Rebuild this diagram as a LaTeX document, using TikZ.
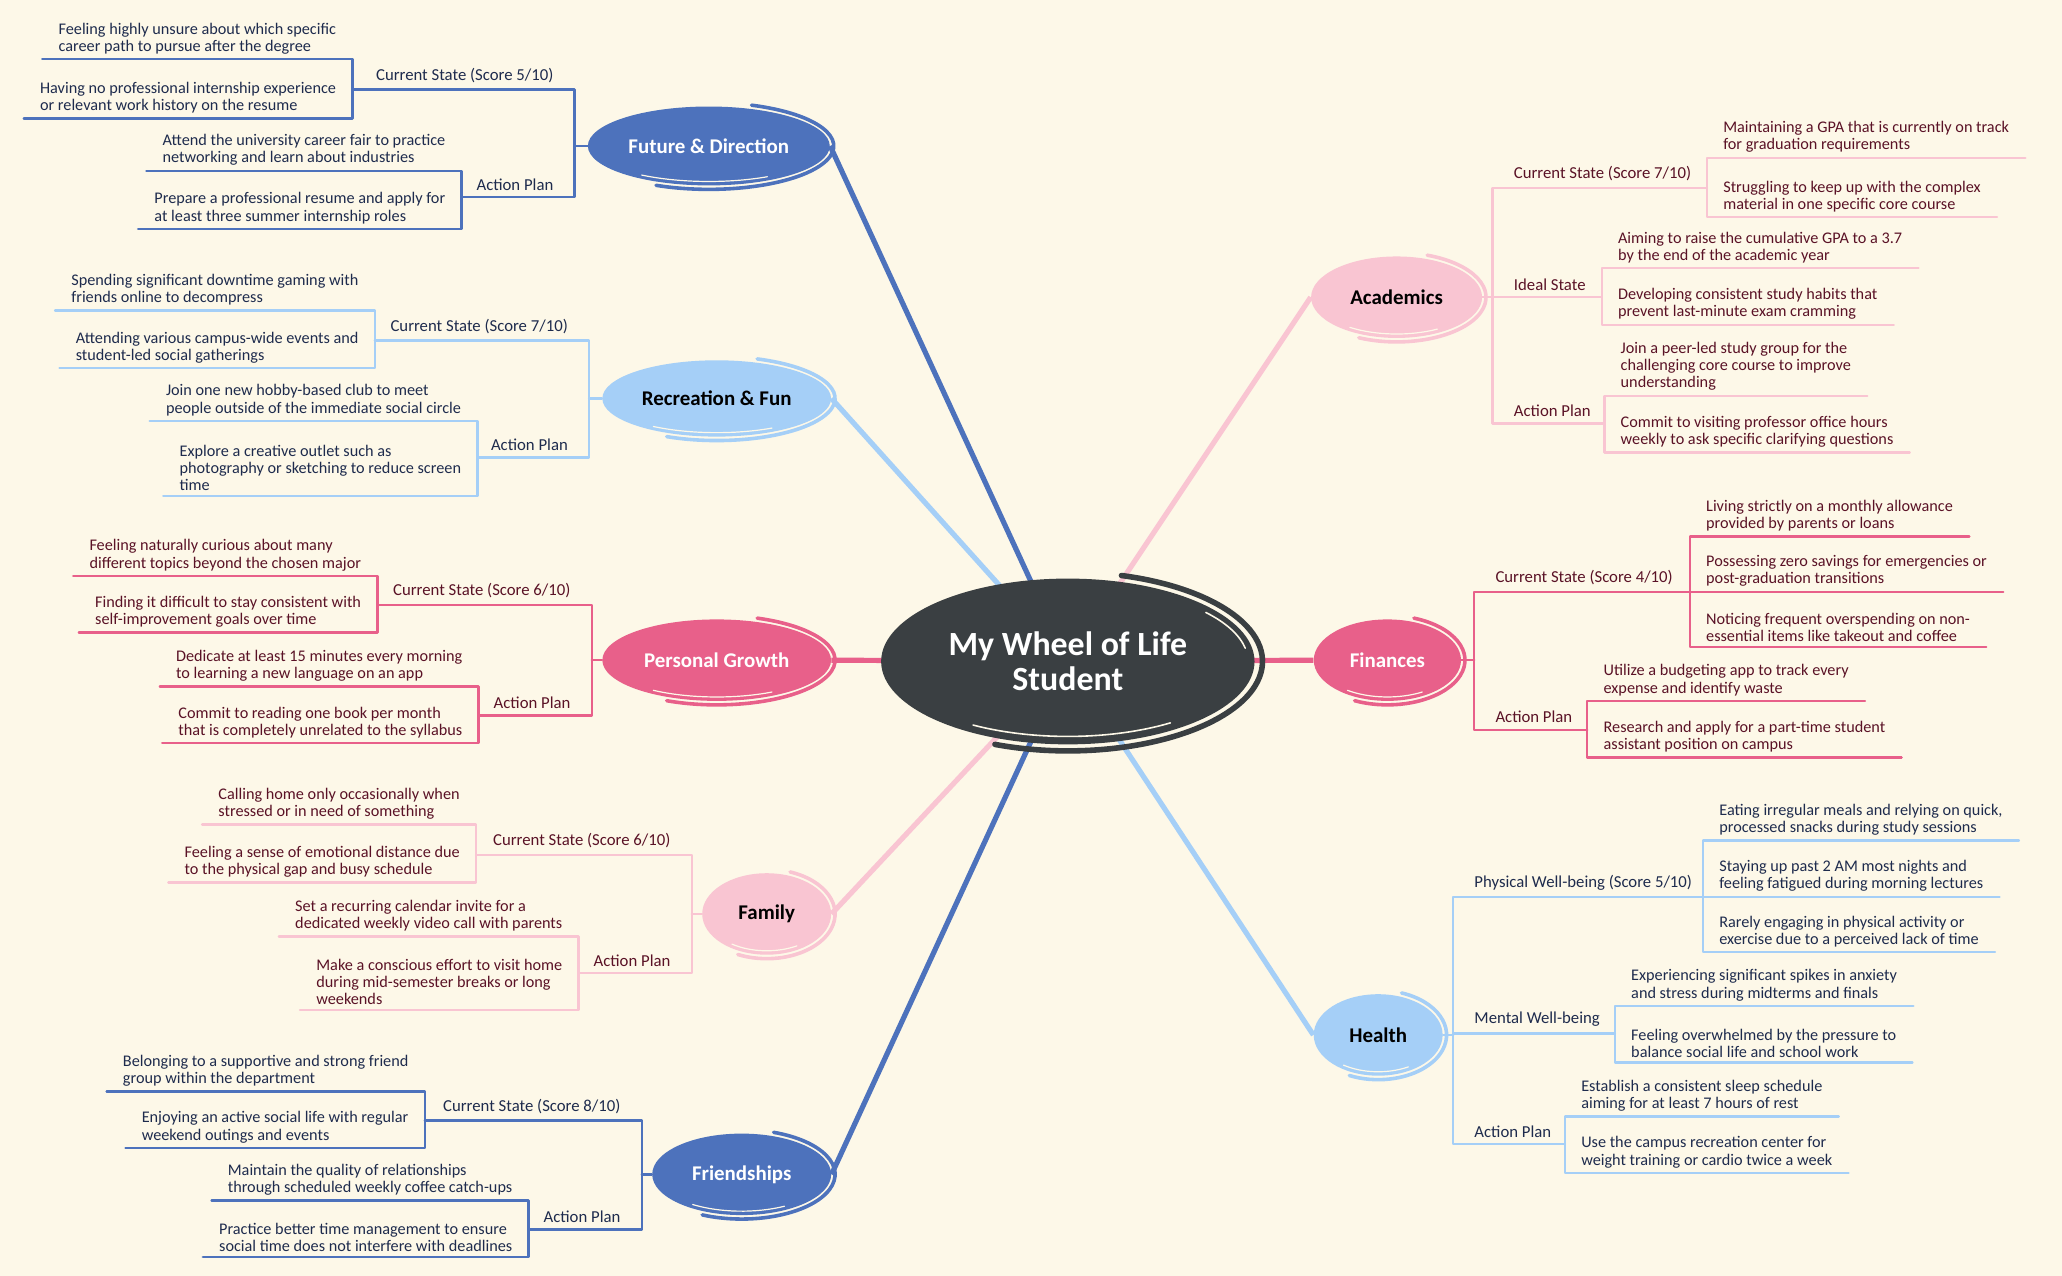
\documentclass[tikz,border=0pt]{standalone}
\usepackage{fontspec}
\setmainfont{Carlito}
\usetikzlibrary{shapes.geometric,backgrounds}
\definecolor{dblue}{HTML}{4D72BC}
\definecolor{lblue}{HTML}{A5CFF7}
\definecolor{dpink}{HTML}{E8608A}
\definecolor{lpink}{HTML}{F9C5D2}
\definecolor{hubgray}{HTML}{3A3F42}
\definecolor{paper}{HTML}{FDF8E8}
\definecolor{navytext}{HTML}{1E2B4D}
\definecolor{maroontext}{HTML}{5A1226}

\begin{document}
\begin{tikzpicture}[x=0.66pt,y=0.66pt,yscale=-1,xscale=1,
  leafnode/.style={align=left, inner xsep=8pt, inner ysep=2.4pt, font=\fontsize{8.15}{8.6}\selectfont},
  navyleaf/.style={leafnode, text=navytext},
  maroonleaf/.style={leafnode, text=maroontext},
  branchlabel/.style={inner xsep=10.5pt, inner ysep=3.2pt, font=\fontsize{8.4}{9}\selectfont},
  navylabel/.style={branchlabel, text=navytext},
  maroonlabel/.style={branchlabel, text=maroontext},
  topicnode/.style={ellipse, inner sep=0pt, font=\bfseries\fontsize{10.5}{12}\selectfont},
  dblueline/.style={draw=dblue, line width=1.2pt, line cap=round, line join=round},
  lblueline/.style={draw=lblue, line width=1.2pt, line cap=round, line join=round},
  dpinkline/.style={draw=dpink, line width=1.2pt, line cap=round, line join=round},
  lpinkline/.style={draw=lpink, line width=1.2pt, line cap=round, line join=round},
  spoke/.style={line width=2.6pt},
  sketch/.style={line width=1.8pt, line cap=round},
  gapline/.style={draw=paper, line width=0.6pt, line cap=round}
]
\useasboundingbox (0,0) rectangle (1568,970);

%Shape: Ellipse (hub)
\node[ellipse, inner sep=0pt, fill=hubgray, text=white, minimum width=187.4pt, minimum height=83.2pt,
  align=center, font=\bfseries\fontsize{17}{17.5}\selectfont] (hub) at (812,503) {My Wheel of Life\\Student};
\draw[hubgray, line width=2.8pt, line cap=round] (hub.center) ++(-74:148 and 68) arc[start angle=-74, end angle=112, x radius=148, y radius=68];
\draw[draw=paper, line width=0.8pt, line cap=round] (hub.center) ++(55:136 and 57) arc[start angle=55, end angle=122, x radius=136, y radius=57];
\draw[draw=paper, line width=0.8pt, line cap=round] (hub.center) ++(-40:137 and 58) arc[start angle=-40, end angle=-10, x radius=137, y radius=58];

%Shape: Ellipse (topics)
\node[topicnode, fill=dblue, text=white, minimum width=121.4pt, minimum height=39.6pt] (fut) at (539,111) {Future \& Direction};
\draw[dblue, sketch] (fut.center) ++(-70:95 and 33) arc[start angle=-70, end angle=115, x radius=95, y radius=33];
\draw[gapline] (fut.center) ++(60:89 and 27) arc[start angle=60, end angle=125, x radius=89, y radius=27];

\node[topicnode, fill=lblue, text=black, minimum width=114.8pt, minimum height=38.3pt] (rec) at (545,303) {Recreation \& Fun};
\draw[lblue, sketch] (rec.center) ++(-70:90 and 32) arc[start angle=-70, end angle=115, x radius=90, y radius=32];
\draw[gapline] (rec.center) ++(60:84 and 26) arc[start angle=60, end angle=125, x radius=84, y radius=26];

\node[topicnode, fill=dpink, text=white, minimum width=114.8pt, minimum height=40.9pt] (pgr) at (545,502) {Personal Growth};
\draw[dpink, sketch] (pgr.center) ++(-70:90 and 34) arc[start angle=-70, end angle=115, x radius=90, y radius=34];
\draw[gapline] (pgr.center) ++(60:84 and 28) arc[start angle=60, end angle=125, x radius=84, y radius=28];

\node[topicnode, fill=lpink, text=black, minimum width=64.7pt, minimum height=40.9pt] (fam) at (583,695) {Family};
\draw[lpink, sketch] (fam.center) ++(-70:52 and 34) arc[start angle=-70, end angle=115, x radius=52, y radius=34];
\draw[gapline] (fam.center) ++(60:46 and 28) arc[start angle=60, end angle=125, x radius=46, y radius=28];

\node[topicnode, fill=dblue, text=white, minimum width=89.8pt, minimum height=40.9pt] (fri) at (564,893) {Friendships};
\draw[dblue, sketch] (fri.center) ++(-70:71 and 34) arc[start angle=-70, end angle=115, x radius=71, y radius=34];
\draw[gapline] (fri.center) ++(60:65 and 28) arc[start angle=60, end angle=125, x radius=65, y radius=28];

\node[topicnode, fill=lpink, text=black, minimum width=85.8pt, minimum height=40.9pt] (aca) at (1062,226) {Academics};
\draw[lpink, sketch] (aca.center) ++(-70:68 and 34) arc[start angle=-70, end angle=115, x radius=68, y radius=34];
\draw[gapline] (aca.center) ++(60:62 and 28) arc[start angle=60, end angle=125, x radius=62, y radius=28];

\node[topicnode, fill=dpink, text=white, minimum width=73.9pt, minimum height=40.9pt] (fin) at (1055,502) {Finances};
\draw[dpink, sketch] (fin.center) ++(-70:59 and 34) arc[start angle=-70, end angle=115, x radius=59, y radius=34];
\draw[gapline] (fin.center) ++(60:53 and 28) arc[start angle=60, end angle=125, x radius=53, y radius=28];

\node[topicnode, fill=lblue, text=black, minimum width=64.7pt, minimum height=40.9pt] (hea) at (1048,787) {Health};
\draw[lblue, sketch] (hea.center) ++(-70:52 and 34) arc[start angle=-70, end angle=115, x radius=52, y radius=34];
\draw[gapline] (hea.center) ++(60:46 and 28) arc[start angle=60, end angle=125, x radius=46, y radius=28];

%Future & Direction
\node[navylabel, anchor=south east] (futcs) at (437,68) {Current State (Score 5/10)};
\node[navylabel, anchor=south east] (futap) at (437,150) {Action Plan};
\node[navyleaf, anchor=south east] (futcs1) at (268,45) {Feeling highly unsure about which specific\\career path to pursue after the degree};
\node[navyleaf, anchor=south east] (futcs2) at (268,90) {Having no professional internship experience\\or relevant work history on the resume};
\node[navyleaf, anchor=south east] (futap1) at (351,130) {Attend the university career fair to practice\\networking and learn about industries};
\node[navyleaf, anchor=south east] (futap2) at (351,174) {Prepare a professional resume and apply for\\at least three summer internship roles};
\draw[dblueline] (futcs1.south west) -- (futcs1.south east) -- (futcs2.south east) -- (futcs2.south west);
\draw[dblueline] (futap1.south west) -- (futap1.south east) -- (futap2.south east) -- (futap2.south west);
\draw[dblueline] (futcs1.south east |- futcs.south) -- (futcs.south east) -- (futap.south east) -- (futap1.south east |- futap.south);
\draw[dblueline] (futcs.south east |- fut.west) -- (fut.west);

%Recreation & Fun
\node[navylabel, anchor=south east] (reccs) at (448,259) {Current State (Score 7/10)};
\node[navylabel, anchor=south east] (recap) at (448,348) {Action Plan};
\node[navyleaf, anchor=south east] (reccs1) at (285,236) {Spending significant downtime gaming with\\friends online to decompress};
\node[navyleaf, anchor=south east] (reccs2) at (285,280) {Attending various campus-wide events and\\student-led social gatherings};
\node[navyleaf, anchor=south east] (recap1) at (363,320) {Join one new hobby-based club to meet\\people outside of the immediate social circle};
\node[navyleaf, anchor=south east] (recap2) at (363,377) {Explore a creative outlet such as\\photography or sketching to reduce screen\\time};
\draw[lblueline] (reccs1.south west) -- (reccs1.south east) -- (reccs2.south east) -- (reccs2.south west);
\draw[lblueline] (recap1.south west) -- (recap1.south east) -- (recap2.south east) -- (recap2.south west);
\draw[lblueline] (reccs1.south east |- reccs.south) -- (reccs.south east) -- (recap.south east) -- (recap1.south east |- recap.south);
\draw[lblueline] (reccs.south east |- rec.west) -- (rec.west);

%Personal Growth
\node[maroonlabel, anchor=south east] (pgrcs) at (450,460) {Current State (Score 6/10)};
\node[maroonlabel, anchor=south east] (pgrap) at (450,544) {Action Plan};
\node[maroonleaf, anchor=south east] (pgrcs1) at (287,438) {Feeling naturally curious about many\\different topics beyond the chosen major};
\node[maroonleaf, anchor=south east] (pgrcs2) at (287,481) {Finding it difficult to stay consistent with\\self-improvement goals over time};
\node[maroonleaf, anchor=south east] (pgrap1) at (364,522) {Dedicate at least 15 minutes every morning\\to learning a new language on an app};
\node[maroonleaf, anchor=south east] (pgrap2) at (364,565) {Commit to reading one book per month\\that is completely unrelated to the syllabus};
\draw[dpinkline] (pgrcs1.south west) -- (pgrcs1.south east) -- (pgrcs2.south east) -- (pgrcs2.south west);
\draw[dpinkline] (pgrap1.south west) -- (pgrap1.south east) -- (pgrap2.south east) -- (pgrap2.south west);
\draw[dpinkline] (pgrcs1.south east |- pgrcs.south) -- (pgrcs.south east) -- (pgrap.south east) -- (pgrap1.south east |- pgrap.south);
\draw[dpinkline] (pgrcs.south east |- pgr.west) -- (pgr.west);

%Family
\node[maroonlabel, anchor=south east] (famcs) at (526,650) {Current State (Score 6/10)};
\node[maroonlabel, anchor=south east] (famap) at (526,740) {Action Plan};
\node[maroonleaf, anchor=south east] (famcs1) at (362,627) {Calling home only occasionally when\\stressed or in need of something};
\node[maroonleaf, anchor=south east] (famcs2) at (362,671) {Feeling a sense of emotional distance due\\to the physical gap and busy schedule};
\node[maroonleaf, anchor=south east] (famap1) at (440,712) {Set a recurring calendar invite for a\\dedicated weekly video call with parents};
\node[maroonleaf, anchor=south east] (famap2) at (440,768) {Make a conscious effort to visit home\\during mid-semester breaks or long\\weekends};
\draw[lpinkline] (famcs1.south west) -- (famcs1.south east) -- (famcs2.south east) -- (famcs2.south west);
\draw[lpinkline] (famap1.south west) -- (famap1.south east) -- (famap2.south east) -- (famap2.south west);
\draw[lpinkline] (famcs1.south east |- famcs.south) -- (famcs.south east) -- (famap.south east) -- (famap1.south east |- famap.south);
\draw[lpinkline] (famcs.south east |- fam.west) -- (fam.west);

%Friendships
\node[navylabel, anchor=south east] (frics) at (488,852) {Current State (Score 8/10)};
\node[navylabel, anchor=south east] (friap) at (488,935) {Action Plan};
\node[navyleaf, anchor=south east] (frics1) at (323,830) {Belonging to a supportive and strong friend\\group within the department};
\node[navyleaf, anchor=south east] (frics2) at (323,873) {Enjoying an active social life with regular\\weekend outings and events};
\node[navyleaf, anchor=south east] (friap1) at (402,913) {Maintain the quality of relationships\\through scheduled weekly coffee catch-ups};
\node[navyleaf, anchor=south east] (friap2) at (402,956) {Practice better time management to ensure\\social time does not interfere with deadlines};
\draw[dblueline] (frics1.south west) -- (frics1.south east) -- (frics2.south east) -- (frics2.south west);
\draw[dblueline] (friap1.south west) -- (friap1.south east) -- (friap2.south east) -- (friap2.south west);
\draw[dblueline] (frics1.south east |- frics.south) -- (frics.south east) -- (friap.south east) -- (friap1.south east |- friap.south);
\draw[dblueline] (frics.south east |- fri.west) -- (fri.west);

%Academics
\node[maroonlabel, anchor=south west] (acacs) at (1135,143) {Current State (Score 7/10)};
\node[maroonlabel, anchor=south west] (acais) at (1135,226) {Ideal State};
\node[maroonlabel, anchor=south west] (acaap) at (1135,322) {Action Plan};
\node[maroonleaf, anchor=south west] (acacs1) at (1298,120) {Maintaining a GPA that is currently on track\\for graduation requirements};
\node[maroonleaf, anchor=south west] (acacs2) at (1298,165) {Struggling to keep up with the complex\\material in one specific core course};
\node[maroonleaf, anchor=south west] (acais1) at (1218,204) {Aiming to raise the cumulative GPA to a 3.7\\by the end of the academic year};
\node[maroonleaf, anchor=south west] (acais2) at (1218,247) {Developing consistent study habits that\\prevent last-minute exam cramming};
\node[maroonleaf, anchor=south west] (acaap1) at (1220,301) {Join a peer-led study group for the\\challenging core course to improve\\understanding};
\node[maroonleaf, anchor=south west] (acaap2) at (1220,344) {Commit to visiting professor office hours\\weekly to ask specific clarifying questions};
\draw[lpinkline] (acacs1.south east) -- (acacs1.south west) -- (acacs2.south west) -- (acacs2.south east);
\draw[lpinkline] (acais1.south east) -- (acais1.south west) -- (acais2.south west) -- (acais2.south east);
\draw[lpinkline] (acaap1.south east) -- (acaap1.south west) -- (acaap2.south west) -- (acaap2.south east);
\draw[lpinkline] (acacs1.south west |- acacs.south) -- (acacs.south west) -- (acaap.south west) -- (acaap1.south west |- acaap.south);
\draw[lpinkline] (acais.south west) -- (acais1.south west |- acais.south);
\draw[lpinkline] (acais.south west |- aca.east) -- (aca.east);

%Finances
\node[maroonlabel, anchor=south west] (fincs) at (1121,450) {Current State (Score 4/10)};
\node[maroonlabel, anchor=south west] (finap) at (1121,555) {Action Plan};
\node[maroonleaf, anchor=south west] (fincs1) at (1285,408) {Living strictly on a monthly allowance\\provided by parents or loans};
\node[maroonleaf, anchor=south west] (fincs2) at (1285,450) {Possessing zero savings for emergencies or\\post-graduation transitions};
\node[maroonleaf, anchor=south west] (fincs3) at (1285,492) {Noticing frequent overspending on non-\\essential items like takeout and coffee};
\node[maroonleaf, anchor=south west] (finap1) at (1207,533) {Utilize a budgeting app to track every\\expense and identify waste};
\node[maroonleaf, anchor=south west] (finap2) at (1207,576) {Research and apply for a part-time student\\assistant position on campus};
\draw[dpinkline] (fincs1.south east) -- (fincs1.south west) -- (fincs3.south west) -- (fincs3.south east);
\draw[dpinkline] (fincs2.south west) -- (fincs2.south east);
\draw[dpinkline] (finap1.south east) -- (finap1.south west) -- (finap2.south west) -- (finap2.south east);
\draw[dpinkline] (fincs1.south west |- fincs.south) -- (fincs.south west) -- (finap.south west) -- (finap1.south west |- finap.south);
\draw[dpinkline] (fincs.south west |- fin.east) -- (fin.east);

%Health
\node[navylabel, anchor=south west] (heaph) at (1105,682) {Physical Well-being (Score 5/10)};
\node[navylabel, anchor=south west] (heamw) at (1105,786) {Mental Well-being};
\node[navylabel, anchor=south west] (heaap) at (1105,870) {Action Plan};
\node[navyleaf, anchor=south west] (heaph1) at (1295,639) {Eating irregular meals and relying on quick,\\processed snacks during study sessions};
\node[navyleaf, anchor=south west] (heaph2) at (1295,682) {Staying up past 2 AM most nights and\\feeling fatigued during morning lectures};
\node[navyleaf, anchor=south west] (heaph3) at (1295,724) {Rarely engaging in physical activity or\\exercise due to a perceived lack of time};
\node[navyleaf, anchor=south west] (heamw1) at (1228,765) {Experiencing significant spikes in anxiety\\and stress during midterms and finals};
\node[navyleaf, anchor=south west] (heamw2) at (1228,808) {Feeling overwhelmed by the pressure to\\balance social life and school work};
\node[navyleaf, anchor=south west] (heaap1) at (1190,849) {Establish a consistent sleep schedule\\aiming for at least 7 hours of rest};
\node[navyleaf, anchor=south west] (heaap2) at (1190,892) {Use the campus recreation center for\\weight training or cardio twice a week};
\draw[lblueline] (heaph1.south east) -- (heaph1.south west) -- (heaph3.south west) -- (heaph3.south east);
\draw[lblueline] (heaph2.south west) -- (heaph2.south east);
\draw[lblueline] (heamw1.south east) -- (heamw1.south west) -- (heamw2.south west) -- (heamw2.south east);
\draw[lblueline] (heaap1.south east) -- (heaap1.south west) -- (heaap2.south west) -- (heaap2.south east);
\draw[lblueline] (heaph1.south west |- heaph.south) -- (heaph.south west) -- (heaap.south west) -- (heaap1.south west |- heaap.south);
\draw[lblueline] (heamw.south west) -- (heamw1.south west |- heamw.south);
\draw[lblueline] (heamw.south west |- hea.east) -- (hea.east);

%Straight Lines (spokes)
\begin{scope}[on background layer]
\fill[paper] (0,0) rectangle (1568,970);
\draw[spoke, dblue] (hub.center) -- (fut.east);
\draw[spoke, lblue] (hub.center) -- (rec.east);
\draw[spoke, dpink] (hub.center) -- (pgr.east);
\draw[spoke, lpink] (hub.center) -- (fam.east);
\draw[spoke, dblue] (hub.center) -- (fri.east);
\draw[spoke, lpink] (hub.center) -- (aca.west);
\draw[spoke, dpink] (hub.center) -- (fin.west);
\draw[spoke, lblue] (hub.center) -- (hea.west);
\end{scope}

\end{tikzpicture}
\end{document}
